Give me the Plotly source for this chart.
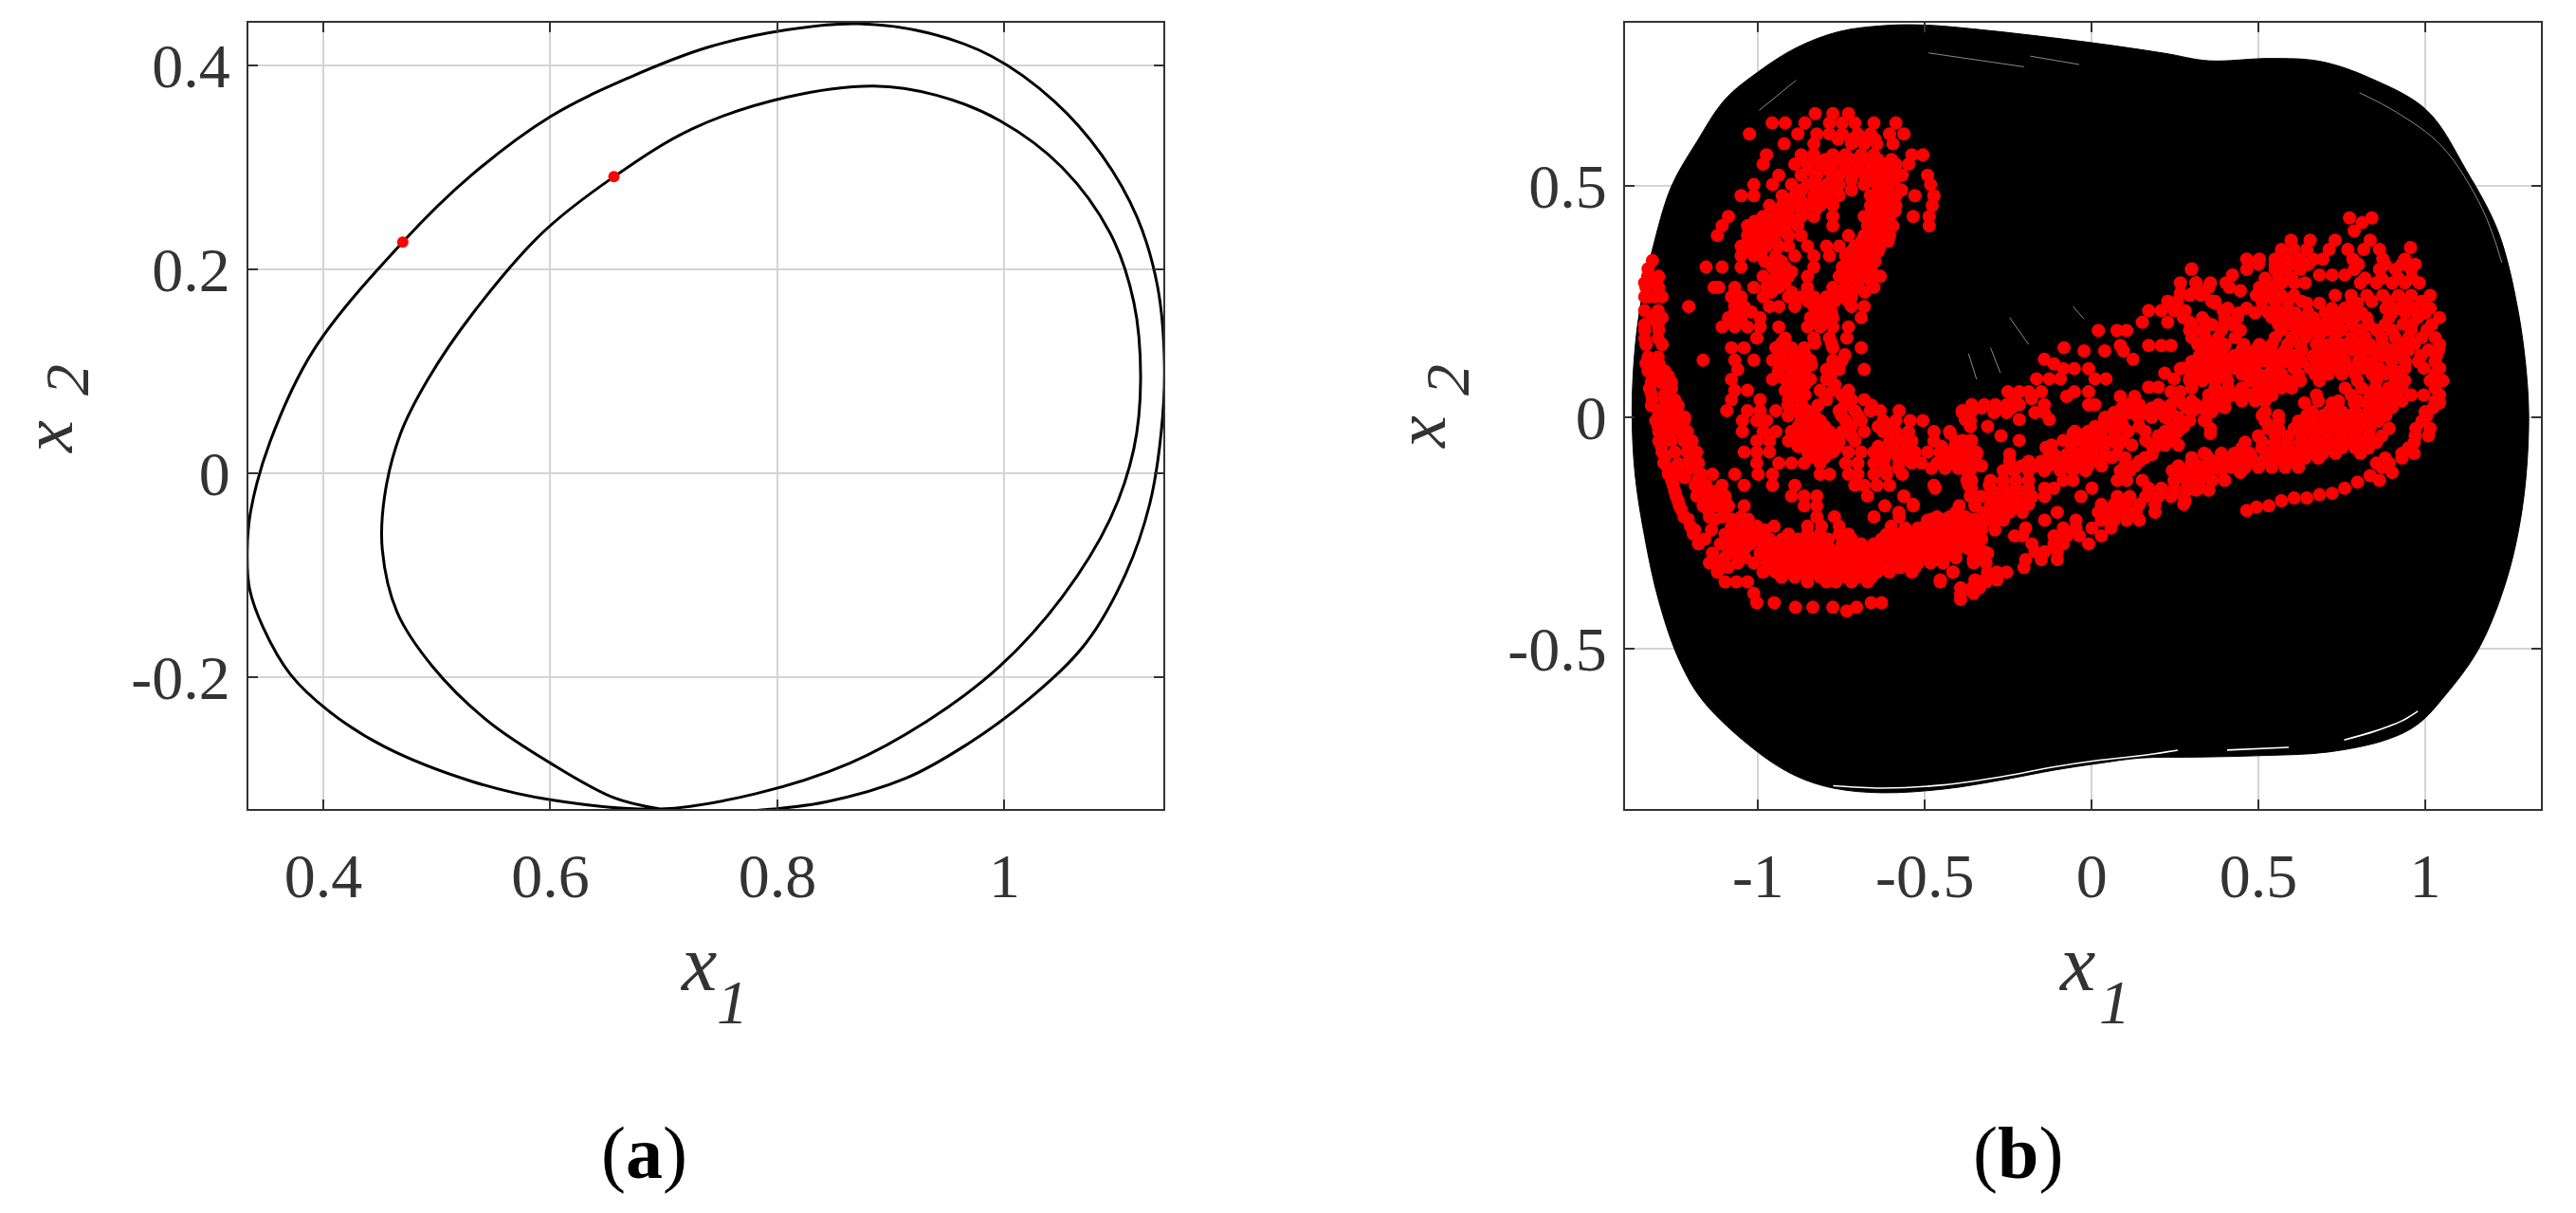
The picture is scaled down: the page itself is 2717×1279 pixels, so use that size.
import plotly.graph_objects as go
from plotly.subplots import make_subplots

# (a) period-2 orbit
orbit_x1 = [0.871, 0.933, 0.989, 1.044, 1.086, 1.117, 1.135, 1.141, 1.138, 1.128, 1.107, 1.072, 1.024, 0.968, 0.913,
            0.843, 0.774, 0.725, 0.697, 0.656, 0.600, 0.544, 0.496, 0.465, 0.452, 0.454, 0.468, 0.492, 0.531, 0.593, 0.656,
            0.725, 0.808, 0.885, 0.940, 0.996, 1.051, 1.093, 1.114, 1.120, 1.114, 1.093, 1.051, 0.996, 0.933, 0.864,
            0.781, 0.697, 0.600, 0.531, 0.454, 0.406, 0.371, 0.347, 0.335, 0.333, 0.336, 0.353, 0.392, 0.470, 0.531, 0.600, 0.669,
            0.739, 0.808, 0.871]
orbit_x2 = [0.441, 0.432, 0.409, 0.365, 0.312, 0.251, 0.183, 0.107, 0.039, -0.030, -0.098, -0.166, -0.219, -0.265, -0.299,
            -0.322, -0.331, -0.332, -0.329, -0.318, -0.284, -0.242, -0.189, -0.136, -0.075, -0.022, 0.039, 0.092, 0.156, 0.236, 0.291,
            0.338, 0.369, 0.380, 0.371, 0.346, 0.300, 0.236, 0.168, 0.092, 0.024, -0.045, -0.121, -0.189, -0.242, -0.284,
            -0.314, -0.329, -0.320, -0.302, -0.268, -0.234, -0.197, -0.151, -0.113, -0.075, -0.037, 0.031, 0.122, 0.227, 0.293, 0.350, 0.388,
            0.418, 0.435, 0.441]
section_a_x1 = [0.470, 0.656]
section_a_x2 = [0.227, 0.291]

# (b) outline of the black trajectory cloud
cloud_x1 = [-1.184, -1.10, -1.0, -0.886, -0.757, -0.62, -0.5, -0.332, 0.0, 0.22, 0.351, 0.535, 0.683, 0.831, 1.005, 1.123, 1.219,
            1.278, 1.307, 1.309, 1.29, 1.243, 1.16, 1.06, 0.978, 0.886, 0.71, 0.5, 0.32, 0.147, 0.018, -0.111,
            -0.258, -0.443, -0.628, -0.775, -0.886, -1.0, -1.163, -1.236, -1.298, -1.34, -1.369, -1.378, -1.369, -1.35,
            -1.317, -1.26, -1.184]
cloud_x2 = [0.594, 0.685, 0.745, 0.797, 0.832, 0.845, 0.846, 0.836, 0.808, 0.785, 0.769, 0.774, 0.768, 0.733, 0.662, 0.533, 0.40,
            0.232, 0.065, -0.052, -0.202, -0.353, -0.50, -0.60, -0.662, -0.695, -0.722, -0.73, -0.733, -0.735, -0.747, -0.761,
            -0.781, -0.802, -0.81, -0.80, -0.774, -0.723, -0.614, -0.525, -0.396, -0.259, -0.123, 0.014, 0.15, 0.253,
            0.362, 0.498, 0.594]

# thin gaps left open inside the cloud
gap_white_x1 = [-0.775, -0.628, -0.443, -0.258, -0.111, 0.018, 0.147, 0.258, None, 0.406, 0.591, None, 0.757, 0.85, 0.93, 0.978]
gap_white_x2 = [-0.795, -0.80, -0.793, -0.774, -0.754, -0.74, -0.73, -0.718, None, -0.718, -0.712, None, -0.696, -0.677, -0.655, -0.634]
gap_grey_x1 = [-0.489, -0.203, None, -0.184, -0.037, None, 0.803, 0.914, 1.051, 1.171, 1.23, None, -0.997, -0.886, None,
               -0.246, -0.189, None, -0.369, -0.345, None, -0.303, -0.274, None, -0.056, -0.023]
gap_grey_x2 = [0.786, 0.756, None, 0.779, 0.761, None, 0.70, 0.658, 0.584, 0.45, 0.333, None, 0.662, 0.727, None,
               0.215, 0.157, None, 0.137, 0.082, None, 0.15, 0.096, None, 0.239, 0.212]

# (b) Poincare section points, one x2 per row of x1 values
section_b_x2 = [
    0.655, 0.635, 0.611, 0.590, 0.566, 0.546, 0.522, 0.502, 0.478, 0.457, 0.433, 0.413, 0.392, 0.369, 0.348, 0.338,
    0.324, 0.304, 0.280, 0.260, 0.239, 0.215, 0.195, 0.188, 0.171, 0.157, 0.150, 0.123, 0.116, 0.103, 0.089, 0.082,
    0.062, 0.058, 0.038, 0.014, -0.007, -0.031, -0.051, -0.075, -0.099, -0.123, -0.147, -0.170, -0.191, -0.215,
    -0.235, -0.252, -0.273, -0.293, -0.314, -0.334, -0.355, -0.38, -0.393, -0.40, -0.41, -0.418,
    0.320, 0.290, 0.268, 0.250, 0.23, 0.205, 0.187, 0.155, 0.150, 0.143, 0.125, 0.115, 0.105, 0.095, 0.083, 0.065,
    0.055, 0.045, 0.027, 0.010, -0.005, -0.02, -0.035, -0.04, -0.05, -0.065, -0.08, -0.095, -0.115,
    -0.136, -0.153, -0.171, -0.188, -0.205, -0.222, -0.239, -0.256, -0.273, -0.29, -0.307, -0.324, -0.334, -0.351, -0.368, -0.382,
    0.43, 0.42, 0.402, 0.382, 0.366, 0.362, 0.341, 0.319, 0.307, 0.29, 0.28, 0.273, 0.263, 0.246, 0.235, 0.215, 0.201,
    0.188, 0.157, 0.133, 0.106, 0.079, 0.048, 0.031, 0.021, 0.004, -0.007, -0.024, -0.054, -0.078, -0.099, -0.119,
    -0.136, -0.157, -0.18, -0.201, -0.194, -0.191, -0.174, -0.167, -0.164, -0.153, -0.14, -0.126,
]
section_b_x1 = [
    [-0.829, -0.776, -0.729],
    [-0.958, -0.919, -0.86, -0.786, -0.748, -0.71, -0.653, -0.587],
    [-1.026, -0.881, -0.824, -0.786, -0.748, -0.701, -0.663, -0.606, -0.563],
    [-0.922, -0.833, -0.72, -0.682, -0.644, -0.596],
    [-0.975, -0.871, -0.833, -0.776, -0.738, -0.691, -0.653, -0.539, -0.506],
    [-0.985, -0.89, -0.852, -0.814, -0.776, -0.738, -0.701, -0.663, -0.625, -0.587, -0.549],
    [-0.938, -0.871, -0.824, -0.757, -0.72, -0.682, -0.644, -0.606, -0.568, -0.492],
    [-1.013, -0.957, -0.9, -0.852, -0.795, -0.757, -0.682, -0.644, -0.606, -0.483],
    [-1.051, -1.013, -0.928, -0.89, -0.833, -0.795, -0.757, -0.663, -0.625, -0.587, -0.53, -0.473],
    [-0.966, -0.928, -0.89, -0.852, -0.814, -0.776, -0.663, -0.625, -0.587, -0.478],
    [-1.089, -0.985, -0.947, -0.909, -0.871, -0.833, -0.776, -0.682, -0.644, -0.606, -0.535, -0.487],
    [-1.108, -1.032, -0.994, -0.957, -0.919, -0.881, -0.776, -0.672, -0.634, -0.596, -0.487],
    [-1.122, -1.032, -0.994, -0.957, -0.909, -0.871, -0.729, -0.682, -0.644, -0.606],
    [-1.051, -1.013, -0.975, -0.938, -0.909, -0.852, -0.795, -0.757, -0.71, -0.672, -0.634],
    [-1.051, -1.013, -0.947, -0.89, -0.833, -0.786, -0.738, -0.701, -0.663],
    [-1.317],
    [-1.156, -1.108, -1.051, -0.957, -0.919, -0.833, -0.748, -0.71, -0.672],
    [-1.331, -1.298, -0.985, -0.947, -0.909, -0.852, -0.757, -0.72, -0.682, -0.634],
    [-1.336, -1.298, -1.132, -1.118, -1.07, -1.013, -0.975, -0.938, -0.852, -0.776, -0.738, -0.701, -0.653],
    [-1.326, -1.288, -1.08, -1.051, -0.985, -0.909, -0.871, -0.833, -0.795, -0.757, -0.72],
    [-1.208, -1.07, -1.042, -0.966, -0.938, -0.89, -0.833, -0.795, -0.72, -0.682],
    [-1.317, -1.288, -1.089, -1.051, -0.994, -0.843, -0.805, -0.776, -0.691],
    [-1.108, -1.07, -1.032, -0.994, -0.938, -0.852, -0.814, -0.776, -0.729],
    [-1.34, -1.298],
    [-1.004, -0.919, -0.833, -0.786, -0.734],
    [-1.336, -1.288],
    [-1.08, -1.042, -0.947, -0.9, -0.862, -0.776, -0.691],
    [-1.165, -1.07, -1.013, -0.957, -0.919, -0.881, -0.843, -0.776, -0.748],
    [-1.336, -1.298],
    [-1.061, -0.938, -0.9, -0.862, -0.795, -0.757, -0.682],
    [-1.317, -1.269],
    [-1.08, -0.957, -0.919, -0.881, -0.843, -0.795],
    [-1.326, -1.26],
    [-1.07, -1.032, -0.919, -0.881, -0.814, -0.776, -0.729],
    [-1.317, -1.25, -1.08, -0.994, -0.909, -0.871, -0.795, -0.72, -0.682],
    [-1.298, -1.241, -1.094, -1.032, -0.994, -0.947, -0.89, -0.852, -0.757, -0.71, -0.663, -0.634, -0.577, -0.388, -0.36],
    [-1.307, -1.26, -1.222, -1.047, -1.004, -0.975, -0.871, -0.833, -0.814, -0.738, -0.691, -0.625, -0.587, -0.544, -0.506, -0.364],
    [-1.298, -1.231, -1.212, -1.047, -0.985, -0.947, -0.9, -0.862, -0.824, -0.786, -0.748, -0.682, -0.625, -0.587, -0.549, -0.473, -0.426],
    [-1.298, -1.222, -1.198, -1.004, -0.966, -0.909, -0.871, -0.833, -0.795, -0.757, -0.71, -0.606, -0.568, -0.539, -0.473, -0.407, -0.369],
    [-1.288, -1.212, -1.184, -1.042, -1.004, -0.966, -0.852, -0.814, -0.776, -0.729, -0.691, -0.653, -0.615, -0.568, -0.53, -0.492, -0.454, -0.416, -0.378, -0.345],
    [-1.283, -1.212, -1.179, -1.004, -0.938, -0.9, -0.862, -0.814, -0.738, -0.701, -0.653, -0.625, -0.577, -0.539, -0.511, -0.464, -0.426, -0.388, -0.35],
    [-1.269, -1.236, -1.17, -1.137, -1.07, -1.0, -0.957, -0.814, -0.786, -0.729, -0.701, -0.653, -0.615, -0.568, -0.369],
    [-1.255, -1.189, -1.156, -1.108, -1.042, -0.957, -0.89, -0.71, -0.682, -0.644, -0.606, -0.473, -0.369, -0.307],
    [-1.246, -1.184, -1.137, -1.099, -0.9, -0.862, -0.824, -0.672, -0.563, -0.364],
    [-1.236, -1.165, -1.127, -1.089, -1.042, -0.862, -0.824, -0.62, -0.535, -0.397, -0.35],
    [-1.222, -1.146, -1.108, -1.051, -0.824, -0.771, -0.653, -0.577, -0.464, -0.426, -0.378, -0.331],
    [-1.203, -1.08, -1.042, -1.004, -0.952, -0.852, -0.81, -0.757, -0.601, -0.501, -0.464, -0.426, -0.388, -0.35],
    [-1.194, -1.099, -1.061, -1.023, -0.985, -0.909, -0.852, -0.814, -0.757, -0.729, -0.615, -0.577, -0.539, -0.501, -0.464, -0.426, -0.388, -0.35],
    [-1.179, -1.113, -1.061, -1.023, -0.985, -0.947, -0.909, -0.852, -0.814, -0.748, -0.691, -0.653, -0.615, -0.577, -0.539, -0.501, -0.464, -0.426, -0.388],
    [-1.137, -1.07, -0.994, -0.957, -0.919, -0.881, -0.843, -0.805, -0.767, -0.729, -0.691, -0.653, -0.615, -0.577, -0.539, -0.501, -0.464, -0.426, -0.35, -0.312],
    [-1.146, -1.118, -1.061, -1.013, -0.975, -0.938, -0.9, -0.862, -0.824, -0.786, -0.748, -0.71, -0.672, -0.634, -0.596, -0.558, -0.52, -0.483, -0.445, -0.354, -0.317],
    [-1.122, -0.985, -0.947, -0.909, -0.871, -0.833, -0.795, -0.757, -0.72, -0.682, -0.644, -0.606, -0.539, -0.416],
    [-1.099, -1.065, -1.032, -0.852, -0.795, -0.767, -0.72, -0.672, -0.454, -0.317],
    [-1.013, -0.354],
    [-0.393],
    [-1.004, -0.952, -0.661, -0.63],
    [-0.888, -0.836, -0.776, -0.705],
    [-0.734],
    [0.3],
    [0.266, 0.313, 0.356, 0.403],
    [0.266, 0.303, 0.337],
    [0.228, 0.257, 0.37],
    [0.171, 0.209, 0.247, 0.28, 0.394],
    [0.152, 0.228, 0.294, 0.342, 0.399],
    [0.02, 0.076, 0.105, 0.294, 0.332],
    [0.086, 0.171, 0.209, 0.238, 0.323, 0.399],
    [-0.083],
    [-0.023, 0.039, 0.095, 0.361],
    [-0.142, 0.124, 0.318, 0.361, 0.399],
    [-0.113],
    [-0.085, -0.052, -0.009, 0.266, 0.313, 0.361, 0.399],
    [0.219],
    [-0.165, -0.127, -0.094, 0.01, 0.043, 0.247, 0.294, 0.332, 0.37],
    [0.171, 0.2],
    [-0.251, -0.217, -0.189, -0.151, -0.052, -0.009, 0.238, 0.266, 0.38],
    [-0.075, 0.086, 0.129],
    [-0.36, -0.322, -0.289, -0.255, -0.217, -0.142, -0.009, 0.01, 0.105, 0.143, 0.2, 0.238, 0.276, 0.313, 0.37],
    [-0.388, -0.293, -0.255, -0.17, -0.142, 0.067, 0.114, 0.162, 0.2, 0.238],
    [-0.379, -0.217, -0.127, 0.039, 0.076, 0.342],
    [-0.364, -0.312, 0.01, 0.057, 0.095, 0.143, 0.238, 0.276],
    [-0.424, -0.056, -0.018, 0.02, 0.356],
    [-0.272, 0.2, 0.238],
    [-0.388, -0.36, -0.217, -0.085, -0.047, -0.009, 0.029, 0.057, 0.095, 0.162, 0.247],
    [-0.137, 0.19],
    [-0.417, -0.345, -0.246, -0.113, -0.075, -0.037, 0.001, 0.039, 0.076, 0.181, 0.342],
    [-0.436, -0.398, -0.355, -0.246, -0.189, -0.151, -0.113, -0.075, -0.037, 0.001, 0.143, 0.304, 0.37, 0.408],
    [-0.374, -0.265, -0.232, -0.189, -0.142, -0.094, -0.056, -0.018, 0.086, 0.114, 0.242, 0.294, 0.342, 0.389],
    [-0.374, -0.36, -0.303, -0.265, -0.227, -0.189, -0.085, -0.056, 0.077, 0.105, 0.152, 0.247, 0.285, 0.314],
    [-0.469, -0.36, -0.303, -0.265, -0.227, -0.189, -0.141, -0.113, 0.001, 0.171, 0.209, 0.247, 0.285, 0.323],
    [-0.563, -0.032, -0.331, -0.293, -0.255, -0.217, -0.179, -0.141, 0.077, 0.114, 0.162, 0.2, 0.238, 0.276],
    [-0.535, -0.35, -0.303, -0.265, -0.227, -0.189, 0.029, 0.067, 0.105, 0.143, 0.19, 0.276],
    [-0.578, -0.407, -0.322, -0.284, -0.246, -0.208, -0.103, 0.02, 0.058, 0.096, 0.133, 0.19],
    [-0.492, -0.464, -0.416, -0.378, -0.341, -0.303, -0.265, -0.141, -0.047, 0.029, 0.067, 0.105, 0.143],
    [-0.559, -0.521, -0.483, -0.445, -0.407, -0.369, -0.331, -0.198, -0.085, -0.047, 0.001, 0.058],
    [-0.568, -0.53, -0.492, -0.454, -0.416, -0.378, -0.341, -0.231, -0.208, -0.113, -0.075, -0.037, 0.029],
    [-0.559, -0.502, -0.464, -0.426, -0.388, -0.35, -0.179, -0.113, -0.085, -0.009],
    [-0.559, -0.483, -0.445, -0.407, -0.322, -0.17, -0.141, -0.103],
    [-0.54, -0.464, -0.355, -0.331, -0.198, -0.151, -0.103],
    [-0.573, -0.54, -0.203],
    [-0.416, -0.312, -0.284, -0.255],
    [-0.454, -0.35, -0.322, -0.284],
    [-0.393, -0.359, -0.336],
    [-0.393],
    [0.773, 0.84],
    [0.811],
    [0.787],
    [0.598, 0.655, 0.73, 0.835],
    [0.956],
    [0.569, 0.607, 0.645, 0.712, 0.768, 0.816, 0.863],
    [0.465, 0.503, 0.55, 0.588, 0.626, 0.664, 0.693, 0.783, 0.873, 0.939],
    [0.299, 0.465, 0.55, 0.579, 0.626, 0.787, 0.863, 0.911, 0.958],
    [0.422, 0.683, 0.721, 0.759],
    [0.313, 0.569, 0.607, 0.64, 0.806, 0.854, 0.901, 0.939, 0.982],
    [0.351, 0.413, 0.503, 0.541],
    [0.446],
    [0.294, 0.328, 0.494, 0.531, 0.569, 0.607, 0.73, 0.778, 0.825, 0.873, 0.92, 0.958, 1.015],
    [0.37, 0.645, 0.683, 0.797],
    [0.408, 0.465, 0.512, 0.55, 0.588, 0.721, 0.759, 0.882, 0.92, 0.967, 1.015],
    [0.275, 0.332, 0.399, 0.437, 0.541, 0.579, 0.626, 0.664, 0.712, 0.749, 0.787, 0.825, 0.892, 0.977, 1.043],
    [0.934],
    [0.294, 0.337, 0.389, 0.446, 0.569, 0.617, 0.664, 0.702, 0.749, 0.806, 0.854, 0.901, 0.958, 1.005],
    [0.318, 0.361, 0.399, 0.456, 0.503, 0.541, 0.588, 0.626, 0.674, 0.712, 0.759, 0.797, 0.835, 0.873, 0.93, 0.967, 1.043],
    [0.323, 0.37, 0.427, 0.475, 0.512, 0.56, 0.607, 0.664, 0.712, 0.749, 0.806, 0.873, 0.92, 0.987, 1.034],
    [0.274, 0.332, 0.38, 0.427, 0.475, 0.55, 0.607, 0.655, 0.693, 0.731, 0.768, 0.816, 0.863, 0.901, 0.939, 0.996, 1.043],
    [0.294, 0.332, 0.37, 0.408, 0.475, 0.512, 0.55, 0.588, 0.626, 0.683, 0.797, 0.854, 0.911, 0.939, 1.015, 1.053],
    [0.351, 0.389, 0.427, 0.475, 0.512, 0.541, 0.674, 0.778, 0.835, 0.873, 0.911, 0.958, 0.996, 1.043],
    [0.638, 0.721, 0.787, 0.825, 1.043],
    [0.285, 0.323, 0.37, 0.399, 0.74, 0.863, 0.901, 1.024],
    [0.511, 0.56, 0.645, 0.693, 0.731, 0.768, 0.806, 0.844, 0.882, 1.005],
    [0.294, 0.337],
    [0.356, 0.531, 0.56, 0.607, 0.645, 0.683, 0.721, 0.759, 0.797, 0.835, 0.892, 0.972, 1.015],
    [0.46, 0.512, 0.55, 0.588, 0.626, 0.664, 0.702, 0.74, 0.778, 0.816, 0.854, 0.967],
    [0.337, 0.389, 0.427, 0.475, 0.531, 0.569, 0.607, 0.655, 0.693, 0.731, 0.806, 0.93, 0.967],
    [0.299, 0.389, 0.427, 0.465, 0.503, 0.541, 0.579, 0.617, 0.854, 0.892],
    [0.275, 0.313, 0.351, 0.446, 0.901],
    [0.285, 0.323, 0.361, 0.399, 0.863],
    [0.285, 0.313, 0.351],
    [0.28, 0.569],
    [0.465],
    [0.494],
    [0.531],
    [0.607, 0.645],
    [0.683],
    [0.721],
    [0.759],
    [0.797],
    [0.835],
]

# more section points where the dots run together
dense_b_x2 = [
    -0.283, -0.303, -0.324, -0.345, -0.263, -0.243, -0.22,
    -0.2, -0.18, -0.16, -0.135, -0.11, -0.087, -0.063, -0.04, -0.02, 0.0, 0.025, 0.05, 0.075, 0.10, 0.13, 0.17, 0.2, 0.23, 0.26, 0.29, 0.32,
    0.60, 0.556, 0.534, 0.512, 0.49, 0.467, 0.445, 0.423, 0.402, 0.38, 0.358, 0.336, 0.314, 0.292, 0.27, 0.25, 0.227, 0.205,
    0.16, 0.135, 0.113, 0.093, 0.07, 0.048, 0.026, 0.003, -0.02, -0.04, -0.063, -0.086, -0.11,
    0.33, 0.30, 0.25, 0.225, 0.2, 0.172, 0.145, 0.12, 0.093, 0.063, 0.035, 0.012, -0.008, -0.04, -0.066, -0.088, -0.108,
    -0.105, -0.087, -0.06, -0.03, 0.0, 0.02, 0.04,
    -0.13, -0.10, -0.075, -0.05, -0.03, -0.01, 0.012, 0.04,
]
dense_b_x1 = [
    [-1.09, -1.04, -0.975, -0.938, -0.90, -0.862, -0.824, -0.786, -0.748, -0.71, -0.672, -0.634, -0.596, -0.558, -0.52, -0.48, -0.445, -0.407, -0.37],
    [-1.1, -1.04, -0.975, -0.938, -0.9, -0.862, -0.824, -0.786, -0.748, -0.71, -0.672, -0.634, -0.596, -0.558, -0.52, -0.483, -0.445, -0.407],
    [-1.09, -0.966, -0.928, -0.89, -0.852, -0.814, -0.776, -0.738, -0.70, -0.663, -0.625, -0.58, -0.53],
    [-0.93, -0.89, -0.852, -0.814, -0.776, -0.738, -0.70, -0.66],
    [-1.16, -1.09, -1.04, -1.0, -0.966, -0.928, -0.88, -0.83, -0.79, -0.72, -0.63, -0.596, -0.558, -0.52, -0.483, -0.445, -0.407, -0.37, -0.33],
    [-1.19, -1.14, -1.06, -1.02, -0.98, -0.52, -0.483, -0.445, -0.407, -0.37, -0.33, -0.29],
    [-1.21, -1.13, -1.08, -1.03, -0.48, -0.44, -0.40, -0.35, -0.31, -0.27],
    [-1.23, -1.15, -1.10],
    [-1.24, -1.16, -1.11],
    [-1.25, -1.17, -1.13],
    [-1.26, -1.18],
    [-1.27, -1.24, -1.2],
    [-1.28, -1.2],
    [-1.29, -1.21],
    [-1.29, -1.22],
    [-1.3, -1.24],
    [-1.3, -1.27, -1.22],
    [-1.32, -1.28, -1.24],
    [-1.32, -1.28],
    [-1.32, -1.29, -1.26],
    [-1.33, -1.3, -1.28],
    [-1.33, -1.3],
    [-1.34, -1.3],
    [-1.34, -1.3],
    [-1.34, -1.3],
    [-1.34, -1.31],
    [-1.34, -1.31],
    [-1.33],
    [-0.76, -0.72, -0.69, -0.65],
    [-0.80, -0.76, -0.72, -0.68, -0.64, -0.60],
    [-0.85, -0.79, -0.74, -0.70, -0.66, -0.62, -0.59],
    [-0.83, -0.78, -0.72, -0.66, -0.625, -0.59],
    [-0.87, -0.82, -0.78, -0.72, -0.64, -0.61, -0.57],
    [-0.91, -0.87, -0.83, -0.80, -0.64, -0.61],
    [-0.95, -0.91, -0.87, -0.83, -0.66, -0.62, -0.59],
    [-1.01, -0.97, -0.93, -0.89, -0.65, -0.61],
    [-1.01, -0.97, -0.93, -0.66, -0.62],
    [-1.03, -0.99, -0.95, -0.69, -0.65, -0.61],
    [-1.03, -0.99, -0.72, -0.68, -0.64],
    [-0.98, -0.93, -0.73, -0.69, -0.65],
    [-0.93, -0.9, -0.74, -0.70, -0.66],
    [-0.97, -0.92, -0.74, -0.70, -0.66],
    [-1.07, -0.96, -0.9, -0.76, -0.72, -0.68],
    [-1.07, -0.89, -0.85, -0.81, -0.77, -0.73],
    [-1.07, -1.02, -0.82, -0.78],
    [-1.08, -1.05, -0.83, -0.79],
    [-0.93, -0.83, -0.78],
    [-0.93, -0.89, -0.86, -0.74],
    [-0.92, -0.88, -0.84, -0.76],
    [-0.94, -0.90, -0.86, -0.78],
    [-0.90, -0.86, -0.77],
    [-0.90, -0.86, -0.80, -0.75],
    [-0.91, -0.87, -0.82, -0.74, -0.66],
    [-0.91, -0.87, -0.83, -0.75, -0.70],
    [-0.88, -0.84, -0.80, -0.72, -0.64, -0.60],
    [-0.89, -0.85, -0.81, -0.77, -0.72],
    [-0.88, -0.84, -0.80, -0.76, -0.64, -0.60, -0.55, -0.45, -0.41, -0.37],
    [-0.84, -0.80, -0.62, -0.58, -0.55, -0.44, -0.40],
    [-0.62, -0.58, -0.48, -0.44, -0.40, -0.36],
    [0.50, 0.55, 0.60, 0.65, 0.80, 0.88, 0.93, 0.97],
    [0.52, 0.56, 0.60, 0.82, 0.87, 0.92, 0.96],
    [0.36, 0.51, 0.55, 0.59, 0.63, 0.78, 0.84, 0.89, 0.94, 0.99],
    [0.44, 0.49, 0.53, 0.57, 0.61, 0.65, 0.70, 0.74, 0.78, 0.81, 0.90, 0.94, 1.0],
    [0.30, 0.36, 0.42, 0.56, 0.60, 0.64, 0.69, 0.73, 0.78, 0.83, 0.88, 0.96, 1.02],
    [0.30, 0.34, 0.38, 0.43, 0.55, 0.60, 0.64, 0.68, 0.73, 0.78, 0.82, 0.87, 0.91, 0.95, 0.99, 1.03],
    [0.34, 0.39, 0.45, 0.49, 0.53, 0.58, 0.63, 0.69, 0.73, 0.78, 0.82, 0.85, 0.90, 0.95, 1.01, 1.04],
    [0.30, 0.35, 0.40, 0.45, 0.50, 0.53, 0.58, 0.63, 0.68, 0.72, 0.76, 0.80, 0.84, 0.90, 0.94, 0.98, 1.03],
    [0.30, 0.35, 0.40, 0.45, 0.50, 0.53, 0.57, 0.62, 0.67, 0.71, 0.75, 0.79, 0.84, 0.88, 0.92, 1.03],
    [0.30, 0.37, 0.41, 0.45, 0.50, 0.53, 0.57, 0.60, 0.76, 0.81, 0.85, 0.89, 0.93, 1.03],
    [0.30, 0.35, 0.40, 0.45, 0.49, 0.52, 0.68, 0.74, 0.80, 0.85, 0.89, 0.93, 1.03],
    [0.30, 0.36, 0.52, 0.66, 0.71, 0.75, 0.79, 0.83, 0.87, 1.0],
    [0.52, 0.56, 0.62, 0.66, 0.70, 0.74, 0.78, 0.82, 0.86, 0.99],
    [0.50, 0.55, 0.59, 0.63, 0.67, 0.71, 0.75, 0.79, 0.83, 0.87, 0.97, 1.01],
    [0.45, 0.51, 0.55, 0.59, 0.63, 0.67, 0.71, 0.75, 0.79, 0.83, 0.95],
    [0.35, 0.40, 0.44, 0.48, 0.52, 0.56, 0.60, 0.64, 0.68, 0.88, 0.93],
    [0.30, 0.34, 0.38, 0.42, 0.46, 0.50, 0.54, 0.58, 0.62, 0.87],
    [-0.33, -0.21, -0.17, -0.13, -0.09, -0.05, -0.01, 0.03, 0.1, 0.13, 0.26, 0.32, 0.36],
    [-0.13, -0.09, -0.05, -0.02, 0.02, 0.06, 0.10, 0.16, 0.30],
    [-0.12, -0.06, -0.02, 0.01, 0.04, 0.08, 0.12, 0.18, 0.22, 0.26],
    [-0.05, -0.01, 0.03, 0.07, 0.11, 0.16, 0.22, 0.26],
    [0.04, 0.09, 0.14, 0.18, 0.22, 0.26],
    [-0.33, -0.28, -0.24, 0.09, 0.13, 0.18, 0.22, 0.29, 0.33, 0.36],
    [-0.23, -0.18, 0.26],
    [-1.22],
    [-1.24],
    [-1.25],
    [-1.26],
    [-1.265],
    [-1.27],
    [-1.27],
    [-1.28],
]

ticks_a_x = [0.4, 0.6, 0.8, 1]
ticks_a_x_text = ["0.4", "0.6", "0.8", "1"]
ticks_a_y = [-0.2, 0, 0.2, 0.4]
ticks_a_y_text = ["-0.2", "0", "0.2", "0.4"]
ticks_b_x = [-1, -0.5, 0, 0.5, 1]
ticks_b_x_text = ["-1", "-0.5", "0", "0.5", "1"]
ticks_b_y = [-0.5, 0, 0.5]
ticks_b_y_text = ["-0.5", "0", "0.5"]

section_x = []
section_y = []
for row_y, row in zip(section_b_x2 + dense_b_x2, section_b_x1 + dense_b_x1):
    section_x += row
    section_y += [row_y] * len(row)

W = 2717
H = 1279
SERIF = "Liberation Serif"
INK = "#333333"

fig = make_subplots(rows=1, cols=2)

fig.add_trace(go.Scatter(x=orbit_x1, y=orbit_x2, mode="lines", line=dict(color="black", width=3, shape="spline", smoothing=1.0)), row=1, col=1)
fig.add_trace(go.Scatter(x=section_a_x1, y=section_a_x2, mode="markers", marker=dict(color="#ff0000", size=12)), row=1, col=1)

fig.add_trace(go.Scatter(x=cloud_x1, y=cloud_x2, mode="lines", fill="toself", fillcolor="black",
                         line=dict(color="black", width=1, shape="spline", smoothing=1.0)), row=1, col=2)
fig.add_trace(go.Scatter(x=gap_white_x1, y=gap_white_x2, mode="lines", line=dict(color="white", width=1.6, shape="spline")), row=1, col=2)
fig.add_trace(go.Scatter(x=gap_grey_x1, y=gap_grey_x2, mode="lines", line=dict(color="#8a8a8a", width=1, shape="spline")), row=1, col=2)
fig.add_trace(go.Scatter(x=section_x, y=section_y, mode="markers", marker=dict(color="#ff0000", size=14)), row=1, col=2)

axis_style = dict(showline=True, linecolor=INK, linewidth=2, mirror="ticks", ticks="inside", ticklen=10, tickwidth=2, tickcolor=INK,
                  showgrid=True, gridcolor="#d4d4d4", gridwidth=1.5, zeroline=False,
                  tickfont=dict(family=SERIF, size=66, color=INK))

fig.update_xaxes(domain=[262 / W, 1227 / W], range=[0.334, 1.14], tickvals=ticks_a_x, ticktext=ticks_a_x_text, ticklabelstandoff=12, row=1, col=1, **axis_style)
fig.update_yaxes(range=[-0.329, 0.442], tickvals=ticks_a_y, ticktext=ticks_a_y_text, domain=[1 - 853 / H, 1 - 24 / H], ticklabelstandoff=4, row=1, col=1, **axis_style)
fig.update_xaxes(domain=[1714 / W, 2680 / W], range=[-1.399, 1.347], tickvals=ticks_b_x, ticktext=ticks_b_x_text, ticklabelstandoff=12, row=1, col=2, **axis_style)
fig.update_yaxes(range=[-0.845, 0.851], tickvals=ticks_b_y, ticktext=ticks_b_y_text, domain=[1 - 853 / H, 1 - 24 / H], ticklabelstandoff=4, row=1, col=2, **axis_style)


def label(text, px, py, size=84, angle=0, color=INK):
    fig.add_annotation(text=text, x=px / W, y=1 - py / H, xref="paper", yref="paper", showarrow=False,
                       textangle=angle, xanchor="center", yanchor="middle",
                       font=dict(family=SERIF, size=size, color=color))


label("<i>x</i>", 736, 1015)
label("<i>1</i>", 772, 1056, size=66)
label("<i>x</i>", 50, 460, size=76, angle=-90)
label("<i>2</i>", 70, 401, size=66, angle=-90)
label("<i>x</i>", 1498, 456, size=76, angle=-90)
label("<i>2</i>", 1526, 401, size=66, angle=-90)
label("<i>x</i>", 2190, 1015)
label("<i>1</i>", 2230, 1056, size=66)
label("(<b>a</b>)", 679, 1215, size=78, color="black")
label("(<b>b</b>)", 2128, 1215, size=78, color="black")

fig.update_layout(width=W, height=H, margin=dict(l=0, r=0, t=0, b=0), showlegend=False,
                  paper_bgcolor="white", plot_bgcolor="white")

fig.write_html("out.html", post_script="document.body.style.margin = '0';", config={"displayModeBar": False})
